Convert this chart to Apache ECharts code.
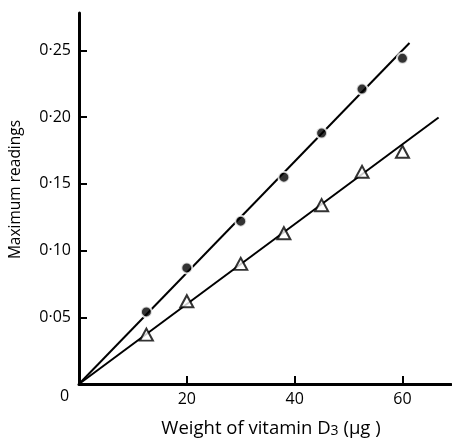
<!DOCTYPE html>
<html>
<head>
<meta charset="utf-8">
<script src="https://cdn.jsdelivr.net/npm/echarts@6/dist/echarts.min.js"></script>
<style>html,body{margin:0;padding:0;background:#fff}#c{width:452px;height:443px}</style>
</head>
<body>
<div id="c"></div>
<script>
// Data
var weights = [12.5, 20, 30, 38, 45, 52.5, 60];
var circleReadings = [0.054, 0.087, 0.122, 0.155, 0.188, 0.221, 0.244];
var triangleReadings = [0.037, 0.062, 0.090, 0.113, 0.134, 0.159, 0.174];
var circleFitLine = [[0, 0], [61.3, 0.2555]];
var triangleFitLine = [[0, 0], [66.7, 0.1997]];
var xTicks = [20, 40, 60];
var yTicks = [0.05, 0.10, 0.15, 0.20, 0.25];

var FONT = '"Open Sans"';
var chart = echarts.init(document.getElementById('c'));
function pairs(xs, ys) { return xs.map(function (x, i) { return [x, ys[i]]; }); }

chart.setOption({
  animation: false,
  backgroundColor: '#fff',
  grid: { left: 77, top: 13, width: 374, height: 374, containLabel: false },
  xAxis: {
    type: 'value', min: 0, max: 69,
    splitLine: { show: false },
    axisLine: { show: true, onZero: false, lineStyle: { color: '#000', width: 3 } },
    axisTick: { show: true, inside: true, length: 8, customValues: xTicks, lineStyle: { color: '#000', width: 2 } },
    axisLabel: { customValues: xTicks, color: '#000', fontFamily: FONT, fontSize: 16, margin: 7 },
    name: 'Weight of vitamin D{s|3} (μg )',
    nameLocation: 'middle', nameGap: 35,
    nameTextStyle: { color: '#000', fontFamily: FONT, fontSize: 18.5, padding: [0, 0, 0, 12],
      rich: { s: { fontFamily: FONT, fontSize: 14, color: '#000', verticalAlign: 'bottom' } } }
  },
  yAxis: {
    type: 'value', min: 0, max: 0.278,
    splitLine: { show: false },
    axisLine: { show: true, onZero: false, lineStyle: { color: '#000', width: 3 } },
    axisTick: { show: true, inside: true, length: 8, customValues: yTicks, lineStyle: { color: '#000', width: 2 } },
    axisLabel: { customValues: yTicks, color: '#000', fontFamily: FONT, fontSize: 16, margin: 8,
      formatter: function (v) { return v.toFixed(2).replace('.', '·'); } },
    name: 'Maximum readings',
    nameLocation: 'middle', nameGap: 55, nameRotate: 90,
    nameTextStyle: { color: '#000', fontFamily: FONT, fontSize: 15.5, padding: [0, 0, 0, 18] }
  },
  graphic: [{
    type: 'text', left: 60, top: 388,
    style: { text: '0', fill: '#000', font: '16px ' + FONT }
  }],
  series: [
    { type: 'line', data: circleFitLine, showSymbol: false, symbol: 'none',
      lineStyle: { color: '#000', width: 2 }, z: 2 },
    { type: 'line', data: triangleFitLine, showSymbol: false, symbol: 'none',
      lineStyle: { color: '#000', width: 2 }, z: 2 },
    { type: 'scatter', data: pairs(weights, circleReadings), symbol: 'circle', symbolSize: 11,
      itemStyle: { color: '#000', borderColor: '#fff', borderWidth: 2 }, z: 3 },
    { type: 'scatter', data: pairs(weights, triangleReadings), symbol: 'triangle', symbolSize: [13, 12],
      itemStyle: { color: '#fff', borderColor: '#000', borderWidth: 2 }, z: 4 }
  ]
});
</script>
</body>
</html>
